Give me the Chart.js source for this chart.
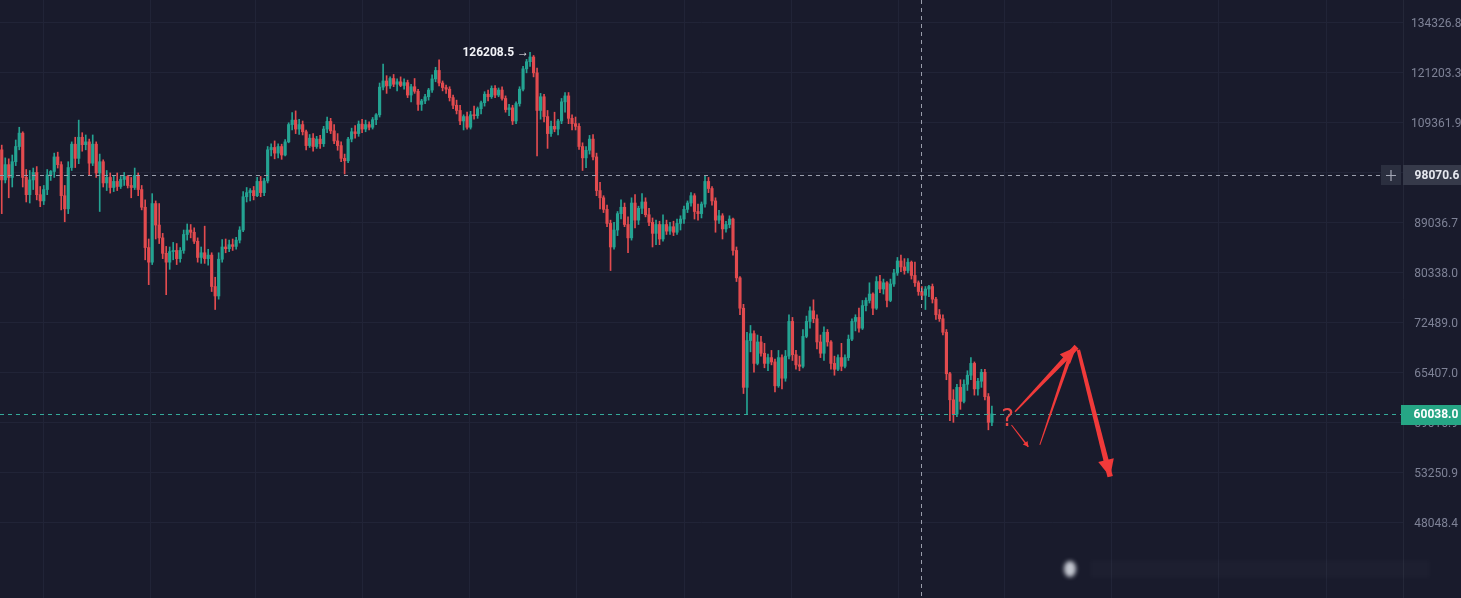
<!DOCTYPE html>
<html>
<head>
<meta charset="utf-8">
<script src="https://cdn.jsdelivr.net/npm/chart.js@4/dist/chart.umd.min.js"></script>
<style>
html,body{margin:0;padding:0;background:#191b2c;overflow:hidden}
canvas{display:block}
</style>
</head>
<body>
<canvas id="c" width="1461" height="598" style="width:1461px;height:598px"></canvas>
<script>
// ---------- DATA (2-day candles) ----------
const opens = [
103300,97100,100200,97600,100800,104000,106900,97600,94200,97100,
98600,94200,93000,95200,98100,98800,101800,100200,94000,91500,
99600,104500,101500,106000,104400,105000,100500,104500,98500,100800,
96500,97600,95600,96800,95800,97200,97800,96000,95600,98000,
95200,91800,84500,82000,92500,88500,86200,83500,82000,83800,
84000,82600,84000,86800,87600,87200,85600,82800,83600,82600,
83200,78000,76500,82500,84600,84300,85000,84700,85800,87600,
93800,94600,95000,94000,96800,94600,96900,103300,103800,102600,
104000,102200,105000,108800,109800,107800,108800,107200,104200,105800,
104000,105600,104600,107800,109500,107400,105200,104200,101500,101000,
105600,107200,106800,108900,107800,108800,108200,109900,111000,117500,
119000,117800,119600,118200,118800,117900,118600,115600,117600,116500,
113400,114200,115200,116800,119500,121600,118500,117400,117000,115000,
113200,112000,109600,110600,108200,111000,110800,112400,113800,115800,
115200,117200,115600,116800,114800,112200,112600,109600,113600,117000,
122000,123800,125000,121000,112000,115200,110600,106800,108400,107800,
109600,114000,115400,110200,109000,108400,104000,101600,103200,105600,
101800,95000,93600,91400,88800,84600,87600,90600,91800,88600,
86200,92600,89400,91600,92800,90400,89000,87000,88600,86000,
88600,87400,88200,87200,88800,89600,91400,92600,94000,91000,
90600,92400,96800,95400,93000,89400,90200,87800,88600,89600,
84000,79400,74600,63400,69800,70800,66600,69600,68000,66600,
67400,66800,63600,67400,64600,67600,72600,67800,66400,66200,
70400,72600,74200,73000,69600,68000,71000,69600,66600,65800,
67400,66200,67400,70000,72600,73200,71600,75000,75800,76800,
74600,78800,77600,78600,75800,78400,80200,82200,81200,80600,
82000,79800,78600,77200,76600,77600,78000,76000,73600,73000,
71000,65200,61800,60000,63400,61600,63800,65000,66600,63200,
64200,65400,62200,59000];

const highs = [
104300,101600,101400,102200,105400,108200,107200,99200,99000,99500,
99800,95800,96000,99200,99000,102600,102800,100800,96000,100800,
105000,106000,109800,107000,106500,105600,106500,105000,102400,101200,
99000,98500,98000,98500,97800,98600,98000,97600,99500,98500,
96000,93200,86000,94400,93000,92500,87000,84700,84600,85400,
85200,84500,87600,88700,88600,88000,86200,84600,88300,84200,
83600,79500,83600,85900,86000,85800,86000,86300,88200,94800,
95600,95400,95800,97600,97800,97400,104000,104600,105200,104600,
104500,105500,109200,111500,111900,110000,109600,107600,106600,106800,
106200,106400,108400,110500,110200,108800,106800,105000,102400,106000,
108000,108600,109600,110000,109800,109400,110400,111300,118500,123200,
120300,120000,120600,119500,120000,119500,119200,118200,119600,117000,
114600,115800,117200,120500,122400,124300,119000,118000,117600,115600,
114400,113200,111000,111600,111800,113000,112800,114200,116400,116800,
117800,117900,117300,117600,115400,113400,113200,114000,117600,122600,
124400,126208.5,125400,122200,116000,115800,112000,109600,111600,110000,
114800,116200,116200,111000,110500,109000,104800,104000,106400,106600,
102600,96600,94000,92200,89400,89000,91000,93200,92600,90000,
93600,94200,92000,94400,93600,91600,89800,89400,89200,90400,
89400,89000,89200,89600,90200,92000,93000,94600,94400,92400,
92800,98000,97600,95800,93600,91200,90600,89200,90200,89800,
84600,79600,75200,71000,72000,71200,70600,70400,69400,67900,
68400,67200,68400,67800,68400,73600,73200,68400,67600,71400,
73400,74800,75900,73600,70600,71800,71400,69800,67600,67800,
69400,67800,70600,73000,73600,74600,75800,76200,78600,77000,
79600,79800,79200,78800,79200,80800,82800,83200,82600,82600,
82200,82000,78900,78000,78000,78200,78400,76300,74400,73600,
71400,65400,63100,63800,64400,64400,65600,67400,66800,64600,
65800,65800,62600,61000];

const lows = [
90600,96500,93600,95700,100000,103300,95700,92800,92600,95200,
93200,91900,92300,94200,97000,97600,99500,91300,89100,90600,
99000,99600,100400,103000,103300,98000,100000,97600,91000,95700,
95000,94500,94800,95000,95400,96000,95500,93600,95200,94000,
91300,82400,78300,81600,86000,85200,82600,76700,80800,82400,
81600,82000,83500,85800,86200,85200,82000,81800,81800,81500,
77200,74400,76000,82000,83600,83800,84000,84200,85300,87300,
92800,93000,93200,93800,93800,94000,96500,102000,101400,101600,
101300,102000,104800,107600,106800,106600,106500,103300,103800,103000,
103600,103600,104000,107000,106800,104600,103200,100800,98300,100600,
105000,105800,106200,107000,107200,107600,107800,108800,110500,116800,
116000,117200,117600,116600,117600,117000,115000,114000,116000,112000,
112000,113600,114400,116200,118800,117800,116600,116000,114200,112400,
111200,108800,107600,107800,107800,110000,110200,111200,113000,114200,
114800,115000,115200,114400,111600,110800,108800,109000,113000,116600,
121000,122600,120000,102000,110000,109400,103600,106200,107200,106500,
109000,111600,109000,107600,107600,103400,99000,99600,102400,101200,
94000,91500,90800,88200,80600,84200,86600,89600,88200,83600,
85800,88000,88600,90600,90000,88400,84600,85000,85000,85600,
86800,86800,86600,86800,87600,88800,90800,92000,89600,89400,
89800,91800,94600,92200,87200,88800,86000,87200,88000,83200,
78800,73600,62600,60000,68200,65400,66400,67600,66000,65600,
66400,62800,63400,63200,64200,67200,67000,65800,65600,66000,
70200,71600,72400,68600,67400,67000,69000,65800,65000,65600,
65600,66000,67000,69800,71200,71000,71400,74200,75400,73600,
74400,77000,76800,74800,75600,78000,79800,80400,80000,80200,
79200,78000,76600,75900,74400,76400,75400,72900,72600,70600,
64400,59200,59000,59700,60600,61400,63000,64400,62400,62400,
63400,61800,58100,58600];

const closes = [
97100,100200,97600,100800,104000,106900,97600,94200,97100,98600,
94200,93000,95200,98100,98800,101800,100200,94000,91500,99600,
104500,101500,106000,104400,105000,100500,104500,98500,100800,96500,
97600,95600,96800,95800,97200,97800,96000,95600,98000,95200,
91800,84500,82000,92500,88500,86200,83500,82000,83800,84000,
82600,84000,86800,87600,87200,85600,82800,83600,82600,83200,
78000,76500,82500,84600,84300,85000,84700,85800,87600,93800,
94600,95000,94000,96800,94600,96900,103300,103800,102600,104000,
102200,105000,108800,109800,107800,108800,107200,104200,105800,104000,
105600,104600,107800,109500,107400,105200,104200,101500,101000,105600,
107200,106800,108900,107800,108800,108200,109900,111000,117500,119000,
117800,119600,118200,118800,117900,118600,115600,117600,116500,113400,
114200,115200,116800,119500,121600,118500,117400,117000,115000,113200,
112000,109600,110600,108200,111000,110800,112400,113800,115800,115200,
117200,115600,116800,114800,112200,112600,109600,113600,117000,122000,
123800,125000,121000,112000,115200,110600,106800,108400,107800,109600,
114000,115400,110200,109000,108400,104000,101600,103200,105600,101800,
95000,93600,91400,88800,84600,87600,90600,91800,88600,86200,
92600,89400,91600,92800,90400,89000,87000,88600,86000,88600,
87400,88200,87200,88800,89600,91400,92600,94000,91000,90600,
92400,96800,95400,93000,89400,90200,87800,88600,89600,84000,
79400,74600,63400,69800,70800,66600,69600,68000,66600,67400,
66800,63600,67400,64600,67600,72600,67800,66400,66200,70400,
72600,74200,73000,69600,68000,71000,69600,66600,65800,67400,
66200,67400,70000,72600,73200,71600,75000,75800,76800,74600,
78800,77600,78600,75800,78400,80200,82200,81200,80600,82000,
79800,78600,77200,76600,77600,78000,76000,73600,73000,71000,
65200,61800,60000,63400,61600,63800,65000,66600,63200,64200,
65400,62200,59000,60038];

const totalSlots = 401;                       // candles + empty future slots
const yTickValues = [134326.8,121203.3,109361.9,98677.5,89036.7,80338.0,72489.0,65407.0,59016.9,53250.9,48048.4];
const yTickLabels = ['134326.8','121203.3','109361.9','98677.5','89036.7','80338.0','72489.0','65407.0','59016.9','53250.9','48048.4'];
const yMin = 41124, yMax = 140540;
const gridIdx = [11.8,42.4,72.4,103.2,133.8,164.4,195.0,225.6,256.2,286.7,317.3,347.9,378.5];
const crossIndex = 262.7, crossPrice = 98070.6, crossLabel = '98070.6';
const lastPrice = 60038.0, lastLabel = '60038.0';
const peakIndex = 151, peakPrice = 126208.5, peakLabel = '126208.5 →';
const questionMark = { idx: 287.5, price: 59300, text: '?' };
const annoStrokes = [
  { a:[288.6,58680], b:[293.4,56120], w0:1,   w1:1.6, head:[5,3] },
  { a:[289.6,60300], b:[307.2,68920], w0:1.5, w1:5.5, head:[17,7] },
  { a:[296.7,56330], b:[305.8,68230], w0:1,   w1:4,   head:null },
  { a:[307.7,68470], b:[316.8,52770], w0:3.5, w1:5.5, head:[17,8] }
];

// ---------- STYLE ----------
const BG = '#191b2c', GRID = '#212437';
const UP = '#24a392', DOWN = '#e24b4f';
const RED = '#f03a3a';

const idx = opens.map((_, i) => i);
const colors = idx.map(i => closes[i] >= opens[i] ? UP : DOWN);
const wickData = idx.map(i => ({ x: i, y: [lows[i], highs[i]] }));
const bodyData = idx.map(i => ({ x: i, y: [Math.min(opens[i], closes[i]), Math.max(opens[i], closes[i])] }));

function taper(ctx, p0, p1, w0, w1) {
  const dx = p1[0]-p0[0], dy = p1[1]-p0[1], L = Math.hypot(dx, dy);
  const nx = -dy/L, ny = dx/L;
  ctx.beginPath();
  ctx.moveTo(p0[0]+nx*w0/2, p0[1]+ny*w0/2);
  ctx.lineTo(p1[0]+nx*w1/2, p1[1]+ny*w1/2);
  ctx.lineTo(p1[0]-nx*w1/2, p1[1]-ny*w1/2);
  ctx.lineTo(p0[0]-nx*w0/2, p0[1]-ny*w0/2);
  ctx.closePath(); ctx.fill();
}
function arrowHead(ctx, from, tip, len, hw) {
  const dx = tip[0]-from[0], dy = tip[1]-from[1], L = Math.hypot(dx, dy);
  const ux = dx/L, uy = dy/L, nx = -uy, ny = ux;
  const bx = tip[0]-ux*len, by = tip[1]-uy*len;
  ctx.beginPath();
  ctx.moveTo(tip[0], tip[1]);
  ctx.lineTo(bx+nx*hw, by+ny*hw);
  ctx.lineTo(bx-nx*hw, by-ny*hw);
  ctx.closePath(); ctx.fill();
}

const overlay = {
  id: 'overlay',
  beforeDraw(chart) {
    const { ctx, width, height } = chart;
    ctx.save(); ctx.fillStyle = BG; ctx.fillRect(0, 0, width, height); ctx.restore();
  },
  afterDraw(chart) {
    const { ctx, chartArea: a, scales: { x, y } } = chart;
    const W = chart.width, H = chart.height;
    ctx.save();
    ctx.lineWidth = 1;
    ctx.setLineDash([4, 4]);
    // last price line
    const yl = Math.round(y.getPixelForValue(lastPrice)) + 0.5;
    ctx.strokeStyle = '#35a999';
    ctx.beginPath(); ctx.moveTo(a.left, yl); ctx.lineTo(a.right, yl); ctx.stroke();
    // crosshair
    const yc = Math.round(y.getPixelForValue(crossPrice)) + 0.5;
    const xc = Math.round(x.getPixelForValue(crossIndex)) + 0.5;
    ctx.strokeStyle = '#9a9eac';
    ctx.beginPath(); ctx.moveTo(a.left, yc); ctx.lineTo(a.right - 22, yc); ctx.stroke();
    ctx.beginPath(); ctx.moveTo(xc, 0); ctx.lineTo(xc, H); ctx.stroke();
    ctx.setLineDash([]);

    // crosshair price label + "+" button
    const ycr = Math.round(y.getPixelForValue(crossPrice));
    ctx.fillStyle = '#2b2f3f';
    ctx.fillRect(a.right - 22, ycr - 10, 20, 20);
    ctx.strokeStyle = '#a3a7b5'; ctx.lineWidth = 1.2;
    ctx.beginPath();
    ctx.moveTo(a.right - 17, ycr + 0.5); ctx.lineTo(a.right - 7, ycr + 0.5);
    ctx.moveTo(a.right - 12, ycr - 5); ctx.lineTo(a.right - 12, ycr + 6);
    ctx.stroke();
    ctx.fillStyle = '#363a4a';
    ctx.fillRect(a.right, ycr - 10, W - a.right, 20);
    ctx.fillStyle = '#e6e8ef';
    ctx.font = 'bold 12px Roboto, "Liberation Sans", sans-serif';
    ctx.textAlign = 'center'; ctx.textBaseline = 'middle';
    ctx.fillText(crossLabel, 1437, ycr + 0.5);

    // last price label
    const ylr = Math.round(y.getPixelForValue(lastPrice));
    ctx.fillStyle = '#26a685';
    ctx.fillRect(a.right - 2, ylr - 9, W - a.right + 2, 20);
    ctx.fillStyle = '#ffffff';
    ctx.fillText(lastLabel, 1436, ylr + 1);

    // peak label
    ctx.textAlign = 'right';
    ctx.fillStyle = '#f2f3f7';
    ctx.font = 'bold 12px Roboto, "Liberation Sans", sans-serif';
    ctx.fillText(peakLabel, x.getPixelForValue(peakIndex) - 1, y.getPixelForValue(peakPrice) + 1);

    // red annotations
    ctx.fillStyle = RED;
    annoStrokes.forEach(s => {
      const p0 = [x.getPixelForValue(s.a[0]), y.getPixelForValue(s.a[1])];
      const p1 = [x.getPixelForValue(s.b[0]), y.getPixelForValue(s.b[1])];
      taper(ctx, p0, p1, s.w0, s.w1);
      if (s.head) arrowHead(ctx, p0, p1, s.head[0], s.head[1]);
    });
    ctx.font = '24px "DejaVu Sans", sans-serif';
    ctx.textAlign = 'center'; ctx.textBaseline = 'middle';
    ctx.fillStyle = '#e84545';
    ctx.fillText(questionMark.text, x.getPixelForValue(questionMark.idx), y.getPixelForValue(questionMark.price));

    // blurred watermark
    ctx.filter = 'blur(2px)';
    ctx.fillStyle = 'rgba(225,228,236,0.85)';
    ctx.beginPath(); ctx.ellipse(1070, 569, 6, 8, 0, 0, Math.PI * 2); ctx.fill();
    ctx.fillStyle = 'rgba(255,255,255,0.02)';
    ctx.fillRect(1090, 560, 340, 18);
    ctx.filter = 'none';
    ctx.restore();
  }
};

new Chart(document.getElementById('c'), {
  type: 'bar',
  data: {
    datasets: [
      { data: bodyData, backgroundColor: colors, barThickness: 2.5, grouped: false, order: 0, minBarLength: 1, borderWidth: 0 },
      { data: wickData, backgroundColor: colors, barThickness: 1, grouped: false, order: 1, borderWidth: 0 }
    ]
  },
  options: {
    responsive: false,
    devicePixelRatio: 1,
    animation: false,
    events: [],
    layout: { padding: 0 },
    plugins: { legend: { display: false }, tooltip: { enabled: false } },
    scales: {
      x: {
        type: 'linear', min: -0.5, max: totalSlots - 0.5, offset: false,
        grid: { color: GRID, drawTicks: false, lineWidth: 1, offset: false },
        border: { display: false },
        ticks: { display: false },
        afterBuildTicks: s => { s.ticks = gridIdx.map(v => ({ value: v })); },
        afterFit: s => { s.height = 0; s.paddingLeft = 0; s.paddingRight = 0; s.paddingTop = 0; s.paddingBottom = 0; }
      },
      y: {
        type: 'logarithmic', position: 'right', min: yMin, max: yMax,
        grid: { color: GRID, drawTicks: false, lineWidth: 1 },
        border: { display: true, color: '#242738' },
        ticks: {
          color: '#7e8296', padding: 8, crossAlign: 'center', autoSkip: false, labelOffset: 1.5,
          font: { family: 'Roboto', size: 12 },
          callback: (v, i) => yTickLabels[i]
        },
        afterBuildTicks: s => { s.ticks = yTickValues.map(v => ({ value: v })); },
        afterFit: s => { s.width = 58; s.paddingTop = 0; s.paddingBottom = 0; }
      }
    }
  },
  plugins: [overlay]
});
</script>
</body>
</html>
